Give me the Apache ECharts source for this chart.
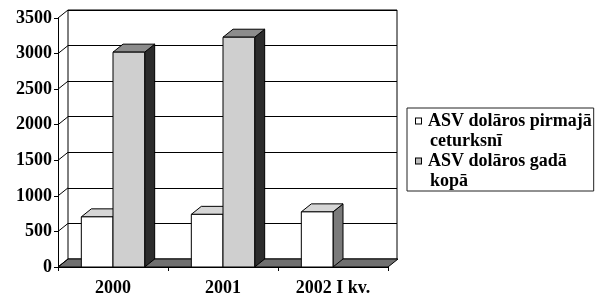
<!DOCTYPE html>
<html><head><meta charset="utf-8">
<script src="https://cdn.jsdelivr.net/npm/echarts@6/dist/echarts.min.js"></script>
<style>html,body{margin:0;padding:0;background:#fff}#c{width:600px;height:302px}</style>
</head><body><div id="c"></div>
<script>
// ---- data ----
const categories = ['2000', '2001', '2002 I kv.'];
const seriesNames = ['ASV dolāros pirmajā ceturksnī', 'ASV dolāros gadā kopā'];
const legendLines = [['ASV dolāros pirmajā', 'ceturksnī'], ['ASV dolāros gadā', 'kopā']];
const firstQuarter = [705, 740, 775];
const fullYear = [3020, 3230, null];
const yTicks = [0, 500, 1000, 1500, 2000, 2500, 3000, 3500];

// ---- style ----
const FONT = '"Liberation Serif", "Times New Roman", serif';
const DX = 10, DY = -8;
const BAR_FRAC = 0.288;
const barColors = [
  { front: '#ffffff', top: '#d6d6d6', side: '#7a7a7a' },
  { front: '#cfcfcf', top: '#8c8c8c', side: '#2c2c2c' }
];

const chart = echarts.init(document.getElementById('c'), null, { renderer: 'canvas' });

function barRenderer(sIdx) {
  const c = barColors[sIdx];
  return function (params, api) {
    const i = api.value(0), v = api.value(1);
    if (v == null || isNaN(v)) return null;
    const base = api.coord([i, 0]);
    const top = api.coord([i, v]);
    const band = api.size([1, 0])[0];
    const w = band * BAR_FRAC;
    const xl = sIdx === 0 ? base[0] - w : base[0];
    const xr = xl + w;
    const yt = top[1], yb = base[1];
    const st = { stroke: '#000', lineWidth: 1 };
    return {
      type: 'group', children: [
        { type: 'polygon', shape: { points: [[xr, yb], [xr + DX, yb + DY], [xr + DX, yt + DY], [xr, yt]] }, style: Object.assign({ fill: c.side }, st) },
        { type: 'polygon', shape: { points: [[xl, yt], [xr, yt], [xr + DX, yt + DY], [xl + DX, yt + DY]] }, style: Object.assign({ fill: c.top }, st) },
        { type: 'rect', shape: { x: xl, y: yt, width: w, height: yb - yt }, style: Object.assign({ fill: c.front }, st) }
      ]
    };
  };
}

function wallRenderer(params, api) {
  const cs = params.coordSys;
  const x0 = cs.x, x1 = cs.x + cs.width, yb = cs.y + cs.height;
  const children = [
    { type: 'polygon', shape: { points: [[x0, yb], [x1, yb], [x1 + DX, yb + DY], [x0 + DX, yb + DY]] },
      style: { fill: '#707070', stroke: '#000', lineWidth: 1 } }
  ];
  yTicks.forEach(function (t) {
    const y = api.coord([0, t])[1];
    children.push({ type: 'line', shape: { x1: x0, y1: y, x2: x0 + DX, y2: y + DY }, style: { stroke: '#000', lineWidth: 1 } });
  });
  return { type: 'group', children: children };
}

const richBase = { fontFamily: FONT, fontWeight: 'bold', fontSize: 18, color: '#000', lineHeight: 20 };
function legendFmt(name) {
  const k = seriesNames.indexOf(name);
  const box = k === 0 ? 'b0' : 'b1';
  return '{' + box + '|}{t|' + legendLines[k][0] + '}\n{s|}{t|' + legendLines[k][1] + '}';
}

chart.setOption({
  animation: false,
  backgroundColor: '#fff',
  grid: [
    { left: 68, top: 10, width: 329, height: 249, show: true, borderColor: '#000', borderWidth: 1, backgroundColor: 'transparent' },
    { left: 58, top: 18, width: 330, height: 249 }
  ],
  xAxis: [
    { gridIndex: 0, type: 'category', data: categories, show: false },
    { gridIndex: 1, type: 'category', data: categories,
      axisLine: { show: true, lineStyle: { color: '#000', width: 1 } },
      axisTick: { show: true, length: 4, lineStyle: { color: '#000' } },
      axisLabel: { margin: 12, color: '#000', fontFamily: FONT, fontWeight: 'bold', fontSize: 18 } }
  ],
  yAxis: [
    { gridIndex: 0, type: 'value', min: 0, max: 3500, interval: 500,
      axisLine: { show: false }, axisTick: { show: false }, axisLabel: { show: false },
      splitLine: { show: true, lineStyle: { color: '#000', width: 1 } } },
    { gridIndex: 1, type: 'value', min: 0, max: 3500, interval: 500,
      axisLine: { show: true, lineStyle: { color: '#000', width: 1 } },
      axisTick: { show: true, length: 4, lineStyle: { color: '#000' } },
      axisLabel: { margin: 6, color: '#000', fontFamily: FONT, fontWeight: 'bold', fontSize: 18,
        formatter: function (v) { return String(v); } },
      splitLine: { show: false } }
  ],
  legend: {
    orient: 'vertical', left: 407, top: 108,
    itemGap: 0, itemWidth: 0, itemHeight: 0,
    padding: [3, 2, 0, 4],
    borderColor: '#222', borderWidth: 1,
    selectedMode: false,
    data: seriesNames.map(function (n) { return { name: n, itemStyle: { opacity: 0 } }; }),
    formatter: legendFmt,
    textStyle: Object.assign({}, richBase, {
      rich: {
        b0: { width: 5, height: 5, backgroundColor: '#fff', borderColor: '#000', borderWidth: 1 },
        b1: { width: 5, height: 5, backgroundColor: '#bdbdbd', borderColor: '#000', borderWidth: 1 },
        s: { width: 7, height: 5 },
        t: Object.assign({ padding: [0, 0, 0, 7] }, richBase)
      }
    })
  },
  series: [
    { name: 'walls', type: 'custom', xAxisIndex: 1, yAxisIndex: 1, renderItem: wallRenderer, data: [[0, 0]], silent: true, z: 1 },
    { name: seriesNames[0], type: 'custom', xAxisIndex: 1, yAxisIndex: 1, renderItem: barRenderer(0), z: 2,
      itemStyle: { color: '#fff' },
      data: firstQuarter.map(function (v, i) { return [i, v]; }) },
    { name: seriesNames[1], type: 'custom', xAxisIndex: 1, yAxisIndex: 1, renderItem: barRenderer(1), z: 3,
      itemStyle: { color: '#bdbdbd' },
      data: fullYear.map(function (v, i) { return [i, v == null ? '-' : v]; }) }
  ]
});
</script></body></html>
